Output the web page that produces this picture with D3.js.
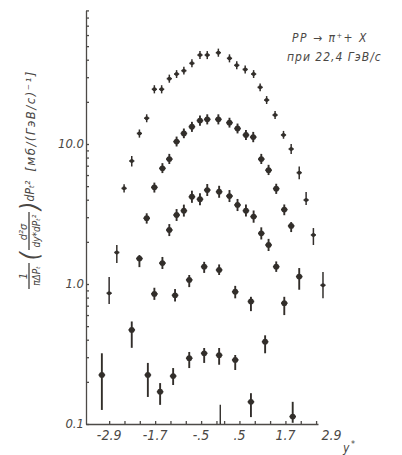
<!DOCTYPE html>
<html>
<head>
<meta charset="utf-8">
<script src="https://cdn.jsdelivr.net/npm/d3@7"></script>
<style>
  body { margin: 0; background: #fff; }
  svg text { font-family: "DejaVu Sans Condensed", "DejaVu Sans", sans-serif; font-style: italic; fill: #4a4744; }
</style>
</head>
<body>
<svg id="chart" width="402" height="455"></svg>
<script>
// rows: [y*, value, errLow, errHigh]
const series1 = [
  [-2.90, 0.86, 0.72, 1.12], [-2.70, 1.68, 1.41, 1.90], [-2.51, 4.82, 4.5, 5.15],
  [-2.31, 7.56, 6.9, 8.2], [-2.11, 11.9, 11.1, 12.7], [-1.92, 15.3, 14.3, 16.3],
  [-1.72, 24.6, 23.0, 26.3], [-1.53, 24.6, 23.0, 26.3], [-1.33, 29.3, 27.4, 31.3],
  [-1.14, 31.6, 29.6, 33.7], [-0.95, 33.4, 31.3, 35.7], [-0.74, 37.7, 35.3, 40.3],
  [-0.53, 43.2, 40.4, 46.1], [-0.34, 43.2, 40.4, 46.1], [-0.05, 44.9, 42.0, 48.0],
  [0.24, 40.9, 38.3, 43.7], [0.43, 36.5, 34.2, 39.0], [0.65, 34.1, 31.9, 36.4],
  [0.87, 31.6, 29.6, 33.7], [1.04, 25.4, 23.8, 27.1], [1.21, 20.6, 19.3, 22.0],
  [1.43, 16.1, 15.1, 17.2], [1.65, 11.6, 10.9, 12.4], [1.85, 9.21, 8.5, 10.0],
  [2.06, 6.24, 5.6, 6.9], [2.24, 3.98, 3.67, 4.54], [2.43, 2.24, 1.90, 2.51],
  [2.68, 0.98, 0.79, 1.22]
];
const series2 = [
  [-2.31, 0.47, 0.35, 0.54], [-2.11, 1.52, 1.32, 1.61], [-1.92, 2.95, 2.7, 3.2],
  [-1.72, 4.9, 4.5, 5.3], [-1.51, 6.7, 6.2, 7.3], [-1.33, 7.8, 7.2, 8.5],
  [-1.14, 10.4, 9.6, 11.3], [-0.95, 11.9, 11.0, 12.9], [-0.74, 13.3, 12.2, 14.4],
  [-0.53, 14.7, 13.5, 16.0], [-0.34, 15.0, 13.8, 16.3], [-0.05, 15.0, 13.8, 16.3],
  [0.24, 14.2, 13.1, 15.4], [0.45, 12.9, 11.9, 14.0], [0.67, 11.6, 10.7, 12.6],
  [0.86, 11.2, 10.3, 12.2], [1.07, 7.8, 7.2, 8.5], [1.26, 6.5, 6.0, 7.1],
  [1.46, 4.8, 4.4, 5.2], [1.67, 3.4, 3.1, 3.7], [1.85, 2.6, 2.35, 2.77],
  [2.06, 1.13, 0.91, 1.30]
];
const series3 = [
  [-1.72, 0.85, 0.77, 0.94], [-1.51, 1.41, 1.28, 1.56], [-1.33, 2.43, 2.2, 2.68],
  [-1.14, 3.11, 2.82, 3.43], [-0.95, 3.34, 3.03, 3.69], [-0.74, 4.2, 3.8, 4.64],
  [-0.53, 4.03, 3.65, 4.45], [-0.34, 4.69, 4.25, 5.18], [-0.03, 4.56, 4.13, 5.03],
  [0.24, 4.25, 3.85, 4.69], [0.45, 3.67, 3.32, 4.05], [0.67, 3.34, 3.03, 3.69],
  [0.87, 3.03, 2.74, 3.35], [1.07, 2.30, 2.08, 2.54], [1.26, 1.90, 1.72, 2.10],
  [1.46, 1.33, 1.22, 1.45], [1.67, 0.73, 0.60, 0.81]
];
const series4 = [
  [-1.18, 0.83, 0.75, 0.92], [-0.81, 1.07, 0.95, 1.16], [-0.42, 1.33, 1.20, 1.44],
  [-0.03, 1.26, 1.16, 1.38], [0.39, 0.88, 0.79, 0.97], [0.80, 0.75, 0.64, 0.81],
  [1.17, 0.387, 0.32, 0.43]
];
const series5 = [
  [-3.09, 0.224, 0.126, 0.32], [-1.89, 0.224, 0.156, 0.273], [-1.57, 0.17, 0.137, 0.196],
  [-1.23, 0.22, 0.19, 0.251], [-0.81, 0.295, 0.251, 0.327], [-0.42, 0.32, 0.273, 0.349],
  [-0.03, 0.31, 0.265, 0.349], [0.39, 0.287, 0.243, 0.311], [0.80, 0.144, 0.112, 0.166],
  [1.89, 0.113, 0.102, 0.144]
];
// point below the frame, only its upper error reaches in: [y*, errHigh]
const offScale = [[0.0, 0.137]];

const xTicks = [-2.9, -2.5, -2.1, -1.7, -1.3, -0.9, -0.5, -0.1, 0.1, 0.5, 0.9, 1.3, 1.7, 2.1, 2.5];
const xLabels = [[-2.9, "-2.9"], [-1.7, "-1.7"], [-0.5, "-.5"], [0.5, ".5"], [1.7, "1.7"], [2.9, "2.9"]];
const yLabels = [[0.1, "0.1"], [1, "1.0"], [10, "10.0"]];

const svg = d3.select("#chart");
const ink = "#332f2c";

const x = d3.scaleLinear().domain([-3.504, 2.55]).range([86, 318]);
const y = d3.scaleLog().domain([0.1, 90]).range([424, 424 - 140 * Math.log10(900)]);

// ! AXES
const yMinor = [];
for (let d = 0.1; d < 100; d *= 10)
  for (let k = 1; k <= 9; k++) { const v = +(d * k).toPrecision(2); if (v >= 0.1 && v <= 90) yMinor.push(v); }

const xAxis = svg.append("g").attr("transform", "translate(0,424)")
  .call(d3.axisBottom(x).tickValues(xTicks).tickSize(-3).tickSizeOuter(0).tickFormat(""));
const yAxis = svg.append("g").attr("transform", "translate(86,0)")
  .call(d3.axisLeft(y).tickValues(yMinor).tickSize(-3).tickSizeOuter(0).tickFormat(""));
[xAxis, yAxis].forEach(a => {
  a.selectAll("path, line").attr("stroke", "#4d4a47").attr("stroke-width", 1.3);
});

svg.append("g").selectAll("text").data(xLabels).join("text")
  .attr("x", d => x(d[0])).attr("y", 440)
  .attr("text-anchor", "middle").attr("font-size", 14)
  .text(d => d[1]);

svg.append("g").selectAll("text").data(yLabels).join("text")
  .attr("x", 84).attr("y", d => y(d[0]) + 4)
  .attr("text-anchor", "end").attr("font-size", 13)
  .text(d => d[1]);

svg.append("text").attr("x", 343).attr("y", 452).attr("font-size", 12).text("y");
svg.append("text").attr("x", 351).attr("y", 447).attr("font-size", 9).text("*");

// ! Y TITLE (rotated, reads bottom to top)
const t = svg.append("g").attr("transform", "translate(30,292) rotate(-90)");
t.append("text").attr("x", 16).attr("y", -3).attr("text-anchor", "middle").attr("font-size", 11).text("1");
t.append("line").attr("x1", 3).attr("x2", 29).attr("y1", -1).attr("y2", -1).attr("stroke", ink).attr("stroke-width", 1.2);
t.append("text").attr("x", 16).attr("y", 10).attr("text-anchor", "middle").attr("font-size", 10).text("πΔPₜ");
t.append("text").attr("x", 36).attr("y", 8).attr("text-anchor", "middle").attr("font-size", 24).attr("font-style", "normal").text("(");
t.append("text").attr("x", 60).attr("y", -3).attr("text-anchor", "middle").attr("font-size", 11).text("d²σ");
t.append("line").attr("x1", 42).attr("x2", 80).attr("y1", -1).attr("y2", -1).attr("stroke", ink).attr("stroke-width", 1.2);
t.append("text").attr("x", 61).attr("y", 10).attr("text-anchor", "middle").attr("font-size", 10).text("dy*dPₜ²");
t.append("text").attr("x", 86).attr("y", 8).attr("text-anchor", "middle").attr("font-size", 24).attr("font-style", "normal").text(")");
t.append("text").attr("x", 101).attr("y", 4).attr("text-anchor", "middle").attr("font-size", 12).text("dPₜ²");
t.append("text").attr("x", 171).attr("y", 5).attr("text-anchor", "middle").attr("font-size", 13)
  .attr("letter-spacing", 1.5).text("[мб/(ГэВ/с)⁻¹]");

// ! ANNOTATION
svg.append("text").attr("x", 292).attr("y", 42).attr("font-size", 12).attr("letter-spacing", 1.5).text("PP → π⁺+ X");
svg.append("text").attr("x", 287).attr("y", 61).attr("font-size", 12).attr("letter-spacing", 1).text("при  22,4 ГэВ/с");

// ! DATA POINTS
const blur = svg.append("defs").append("filter").attr("id", "scan");
blur.append("feGaussianBlur").attr("stdDeviation", 0.45);

const allSeries = [
  { rows: series1, r: 2.0, cap: 2.6, w: 1.5 },
  { rows: series2, r: 2.9, cap: 3.3, w: 1.9 },
  { rows: series3, r: 2.9, cap: 3.3, w: 1.9 },
  { rows: series4, r: 2.9, cap: 3.3, w: 1.9 },
  { rows: series5, r: 2.9, cap: 3.3, w: 1.9 }
];

const pts = svg.append("g").attr("filter", "url(#scan)");
allSeries.forEach(s => {
  const g = pts.append("g");
  g.selectAll("line.err").data(s.rows).join("line").attr("class", "err")
    .attr("x1", d => x(d[0])).attr("x2", d => x(d[0]))
    .attr("y1", d => y(d[2])).attr("y2", d => y(d[3]))
    .attr("stroke", ink).attr("stroke-width", s.w);
  g.selectAll("line.bar").data(s.rows).join("line").attr("class", "bar")
    .attr("x1", d => x(d[0]) - s.cap).attr("x2", d => x(d[0]) + s.cap)
    .attr("y1", d => y(d[1])).attr("y2", d => y(d[1]))
    .attr("stroke", ink).attr("stroke-width", 1.6);
  g.selectAll("circle").data(s.rows).join("circle")
    .attr("cx", d => x(d[0])).attr("cy", d => y(d[1])).attr("r", s.r)
    .attr("fill", ink);
});

pts.append("g").selectAll("line").data(offScale).join("line")
  .attr("x1", d => x(d[0])).attr("x2", d => x(d[0]))
  .attr("y1", y(0.1)).attr("y2", d => y(d[1]))
  .attr("stroke", ink).attr("stroke-width", 1.4);
</script>
</body>
</html>
